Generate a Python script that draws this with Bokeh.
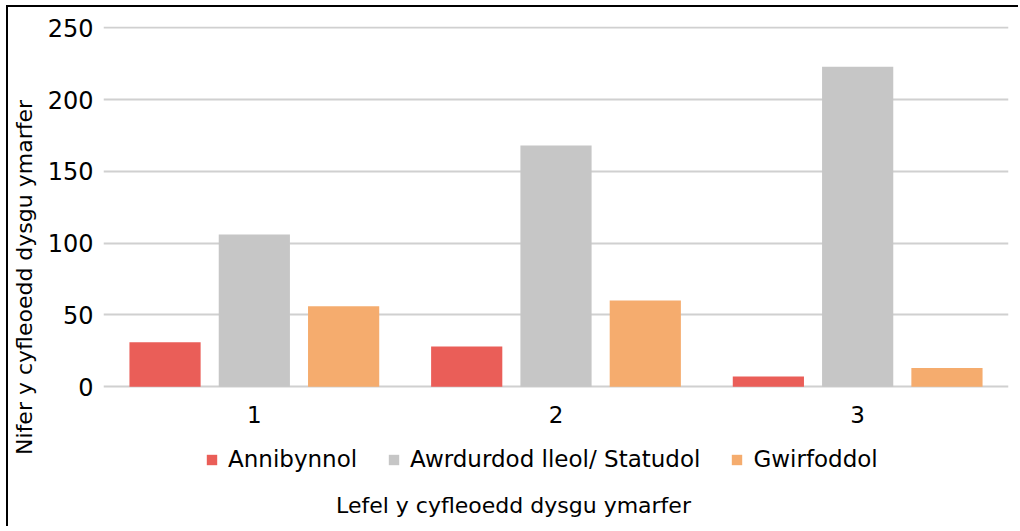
from bokeh.plotting import figure
from bokeh.models import (ColumnDataSource, FactorRange, Range1d, Legend, LegendItem, Label)
from bokeh.transform import dodge
from bokeh.embed import file_html
from bokeh.resources import INLINE

levels = ["1", "2", "3"]
series_names = ["Annibynnol", "Awrdurdod lleol/ Statudol", "Gwirfoddol"]
annibynnol = [31, 28, 7]
awdurdod = [106, 168, 223]
gwirfoddol = [56, 60, 13]
colors = ["#EA5E58", "#C6C6C6", "#F5AC6E"]
y_ticks = [0, 50, 100, 150, 200, 250]
x_title = "Lefel y cyfleoedd dysgu ymarfer"
y_title = "Nifer y cyfleoedd  dysgu ymarfer"

FONT = "DejaVu Sans"

src = ColumnDataSource(dict(x=levels, a=annibynnol, b=awdurdod, c=gwirfoddol))

W, H = 1012, 521
p = figure(x_range=FactorRange(*levels), y_range=Range1d(-94, 251),
           width=W, height=H,
           min_border_left=95, min_border_right=12, min_border_top=19, min_border_bottom=7,
           output_backend="svg", toolbar_location=None)
p.margin = (5, 0, 0, 6)
p.styles = {"border-left": "2px solid black", "border-top": "2px solid black"}

renderers = []
for col, off, color in zip(["a", "b", "c"], [-0.296, 0.0, 0.296], colors):
    r = p.vbar(x=dodge("x", off, range=p.x_range), top=col, width=0.236, bottom=0,
               source=src, fill_color=color, line_color=None)
    renderers.append(r)

p.outline_line_color = None
p.background_fill_color = "white"
p.border_fill_color = "white"

p.xgrid.grid_line_color = None
p.ygrid.grid_line_color = "#D0D0D0"
p.ygrid.grid_line_width = 2
p.yaxis.ticker = y_ticks
p.xaxis.fixed_location = 0

for ax in (p.xaxis, p.yaxis):
    ax.axis_line_color = None
    ax.major_tick_line_color = None
    ax.minor_tick_line_color = None
    ax.major_tick_out = 0
    ax.major_tick_in = 0
    ax.major_label_text_font = FONT
    ax.major_label_text_color = "black"
    ax.axis_label_text_font = FONT
    ax.axis_label_text_font_style = "normal"
    ax.axis_label_text_color = "black"

p.yaxis.major_label_text_font_size = "24px"
p.yaxis.major_label_standoff = 10
p.yaxis.axis_label = y_title
p.yaxis.axis_label_text_font_size = "22px"
p.yaxis.axis_label_standoff = 8

p.xaxis.major_label_text_font_size = "23px"
p.xaxis.major_label_standoff = 19

legend = Legend(items=[LegendItem(label=n, renderers=[r]) for n, r in zip(series_names, renderers)],
                orientation="horizontal", location=(102, 49),
                label_text_font=FONT, label_text_font_size="23px", label_text_color="black",
                glyph_width=13, glyph_height=13, label_standoff=10, spacing=30,
                border_line_color=None, background_fill_alpha=0, padding=2)
p.add_layout(legend)

p.add_layout(Label(x=410, y=16, x_units="screen", y_units="screen", text=x_title,
                   text_align="center", text_baseline="middle",
                   text_font=FONT, text_font_size="22px", text_color="black"))

open("out.html", "w").write(file_html(p, INLINE))
